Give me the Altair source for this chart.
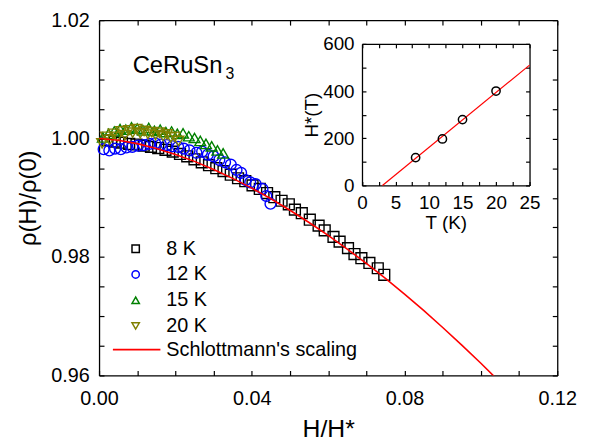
import altair as alt
import pandas as pd

FONT = "Liberation Sans"

# ---------------- main panel data ----------------
series_names = ["8 K", "12 K", "15 K", "20 K"]
series_colors = ["#000000", "#0000ff", "#008000", "#808000"]
series_shapes = ["square", "circle", "triangle-up", "triangle-down"]

h_8K = [0.0022, 0.0041, 0.0060, 0.0079, 0.0098, 0.0117, 0.0136, 0.0155, 0.0174, 0.0193,
        0.0212, 0.0231, 0.0250, 0.0269, 0.0288, 0.0307, 0.0326, 0.0345, 0.0364, 0.0383,
        0.0402, 0.0421, 0.0440, 0.0459, 0.0478, 0.0497, 0.0513, 0.0531, 0.0552, 0.0575,
        0.0591, 0.0614, 0.0630, 0.0652, 0.0669, 0.0687, 0.0708, 0.0730, 0.0747]
r_8K = [0.9997, 0.9995, 0.9993, 0.9991, 0.9990, 0.9988, 0.9986, 0.9984, 0.9981, 0.9978,
        0.9974, 0.9970, 0.9965, 0.9960, 0.9955, 0.9950, 0.9945, 0.9939, 0.9933, 0.9928,
        0.9921, 0.9915, 0.9908, 0.9901, 0.9895, 0.9889, 0.9880, 0.9874, 0.9863, 0.9853,
        0.9845, 0.9834, 0.9826, 0.9815, 0.9805, 0.9798, 0.9790, 0.9781, 0.9770]

h_12K = [0.0012, 0.0027, 0.0042, 0.0057, 0.0072, 0.0087, 0.0102, 0.0117, 0.0132, 0.0147,
         0.0162, 0.0177, 0.0192, 0.0207, 0.0222, 0.0237, 0.0255, 0.0270, 0.0285, 0.0300,
         0.0315, 0.0330, 0.0345, 0.0360, 0.0372, 0.0384, 0.0396, 0.0410, 0.0428, 0.0438,
         0.0449]
r_12K = [0.9982, 0.9980, 0.9983, 0.9982, 0.9985, 0.9986, 0.9988, 0.9989, 0.9991, 0.9992,
         0.9990, 0.9989, 0.9987, 0.9986, 0.9983, 0.9980, 0.9976, 0.9978, 0.9973, 0.9970,
         0.9964, 0.9960, 0.9956, 0.9947, 0.9942, 0.9930, 0.9926, 0.9923, 0.9915, 0.9903,
         0.9890]

h_15K = [0.0010, 0.0025, 0.0040, 0.0055, 0.0070, 0.0085, 0.0100, 0.0115, 0.0130, 0.0145,
         0.0160, 0.0175, 0.0190, 0.0205, 0.0220, 0.0235, 0.0250, 0.0265, 0.0280, 0.0295,
         0.0310, 0.0325]
r_15K = [1.0002, 1.0008, 1.0012, 1.0016, 1.0015, 1.0019, 1.0017, 1.0014, 1.0018, 1.0013,
         1.0015, 1.0011, 1.0012, 1.0008, 1.0009, 1.0004, 1.0001, 0.9996, 0.9991, 0.9987,
         0.9980, 0.9975]

h_20K = [0.0008, 0.0018, 0.0028, 0.0038, 0.0048, 0.0058, 0.0068, 0.0078, 0.0088, 0.0098,
         0.0108, 0.0118, 0.0128, 0.0138, 0.0148, 0.0158, 0.0168, 0.0178, 0.0188, 0.0198,
         0.0208]
r_20K = [0.9992, 1.0003, 0.9998, 1.0008, 1.0003, 1.0012, 1.0006, 1.0014, 1.0010, 1.0016,
         1.0009, 1.0013, 1.0008, 1.0011, 1.0006, 1.0010, 1.0004, 1.0007, 1.0002, 1.0003,
         0.9996]

curve_label = "Schlottmann's scaling"
curve_h = [0.0, 0.005, 0.01, 0.015, 0.02, 0.025, 0.03, 0.035, 0.04, 0.045, 0.05,
           0.055, 0.06, 0.065, 0.07, 0.075, 0.08, 0.085, 0.09, 0.095, 0.10, 0.105]
curve_r = [1.0000, 0.99973, 0.99915, 0.99834, 0.99733, 0.99615, 0.99479, 0.99328,
           0.99163, 0.98984, 0.98790, 0.98583, 0.98366, 0.98134, 0.97892, 0.97638,
           0.97373, 0.97097, 0.96810, 0.96511, 0.96206, 0.95886]

x_ticks = [0.0, 0.01, 0.02, 0.03, 0.04, 0.05, 0.06, 0.07, 0.08, 0.09, 0.10, 0.11, 0.12]
y_ticks = [0.96, 0.965, 0.97, 0.975, 0.98, 0.985, 0.99, 0.995, 1.0, 1.005, 1.01, 1.015, 1.02]

compound = "CeRuSn"
compound_sub = "3"

# ---------------- inset data ----------------
inset_T = [8, 12, 15, 20]
inset_H = [118, 197, 279, 400]
fit_T = [3.05, 25.0]
fit_H = [0.0, 510.0]
inset_x_ticks = [0, 2.5, 5, 7.5, 10, 12.5, 15, 17.5, 20, 22.5, 25]
inset_y_ticks = [0, 100, 200, 300, 400, 500, 600]

# ---------------- tables ----------------
rows = []
idx = 0
for name, hs, rs in zip(series_names, [h_8K, h_12K, h_15K, h_20K], [r_8K, r_12K, r_15K, r_20K]):
    for h, r in zip(hs, rs):
        rows.append({"h": h, "r": r, "series": name, "idx": idx})
        idx += 1
df_pts = pd.DataFrame(rows)
df_curve = pd.DataFrame({"h": curve_h, "r": curve_r, "label": [curve_label] * len(curve_h)})
df_txt = pd.DataFrame({"h": [0.0088], "r": [1.0123], "t": [compound]})
df_sub = pd.DataFrame({"h": [0.0331], "r": [1.0109], "t": [compound_sub]})
df_in = pd.DataFrame({"T": inset_T, "H": inset_H})
df_fit = pd.DataFrame({"T": fit_T, "H": fit_H})

W, H = 463, 359
IN_X = [265.7, 435.0]
IN_Y = [167.0, 24.0]


def neg(n):
    return alt.ExprRef(expr=str(-n))


xs = alt.Scale(domain=[0, 0.12], nice=False, zero=False)
ys = alt.Scale(domain=[0.96, 1.02], nice=False, zero=False)
xlab = "abs(datum.value*25 - round(datum.value*25)) < 0.001 ? format(datum.value, '.2f') : ''"
ylab = "abs(datum.value*50 - round(datum.value*50)) < 0.001 ? format(datum.value, '.2f') : ''"

leg_pts = alt.Legend(title=None, orient="none", legendX=27, legendY=221, symbolSize=55,
                     symbolStrokeWidth=1.5, labelFontSize=20, labelFont=FONT, labelColor="black",
                     labelOffset=21, rowPadding=6, padding=0, labelLimit=300)
leg_line = alt.Legend(title=None, orient="none", legendX=13, legendY=308, symbolType="stroke",
                      symbolSize=2304, symbolStrokeWidth=1.8, labelFontSize=20, labelFont=FONT,
                      labelColor="black", labelOffset=5, padding=0, labelLimit=300)

points = alt.Chart(df_pts).mark_point(filled=False, size=120, strokeWidth=1.4, opacity=1).encode(
    x=alt.X("h:Q", scale=xs, axis=alt.Axis(orient="bottom", values=x_ticks, labelExpr=xlab,
                                           tickSize=neg(5), labelPadding=18, labelFontSize=20,
                                           title="H/H*", titleFontSize=25, titlePadding=9)),
    y=alt.Y("r:Q", scale=ys, axis=alt.Axis(orient="left", values=y_ticks, labelExpr=ylab,
                                           tickSize=neg(5), labelPadding=15, labelFontSize=20,
                                           title="ρ(H)/ρ(0)", titleFontSize=24, titlePadding=10)),
    color=alt.Color("series:N", scale=alt.Scale(domain=series_names, range=series_colors), legend=leg_pts),
    shape=alt.Shape("series:N", scale=alt.Scale(domain=series_names, range=series_shapes), legend=leg_pts),
    order=alt.Order("idx:Q"),
)

curve = alt.Chart(df_curve).mark_line(strokeWidth=1.6, clip=True).encode(
    x=alt.X("h:Q", scale=xs, axis=alt.Axis(orient="top", values=x_ticks, labels=False,
                                           tickSize=neg(5), title=None)),
    y=alt.Y("r:Q", scale=ys, axis=alt.Axis(orient="right", values=y_ticks, labels=False,
                                           tickSize=neg(5), title=None)),
    color=alt.Color("label:N", scale=alt.Scale(domain=[curve_label], range=["#ff0000"]), legend=leg_line),
)

txt = alt.Chart(df_txt).mark_text(align="left", baseline="middle", fontSize=24, font=FONT, color="black").encode(
    x=alt.X("h:Q", scale=xs, axis=None), y=alt.Y("r:Q", scale=ys, axis=None), text="t:N")
sub = alt.Chart(df_sub).mark_text(align="left", baseline="middle", fontSize=16, font=FONT, color="black").encode(
    x=alt.X("h:Q", scale=xs, axis=None), y=alt.Y("r:Q", scale=ys, axis=None), text="t:N")

main = alt.layer(points, curve, txt, sub).resolve_scale(
    color="independent", shape="independent").resolve_axis(x="independent", y="independent")

xsi = alt.Scale(domain=[0, 25], range=IN_X, nice=False, zero=False)
ysi = alt.Scale(domain=[0, 600], range=IN_Y, nice=False, zero=False)
ixlab = "datum.value % 5 == 0 ? format(datum.value, 'd') : ''"
iylab = "datum.value % 200 == 0 ? format(datum.value, 'd') : ''"

inset_line = alt.Chart(df_fit).mark_line(color="#ff0000", strokeWidth=1.2).encode(
    x=alt.X("T:Q", scale=xsi, axis=alt.Axis(orient="top", offset=-IN_Y[1], values=inset_x_ticks,
                                            labels=False, tickSize=neg(4), title=None)),
    y=alt.Y("H:Q", scale=ysi, axis=alt.Axis(orient="right", offset=-(W - IN_X[1]), values=inset_y_ticks,
                                            labels=False, tickSize=neg(4), title=None)),
)
inset_pts = alt.Chart(df_in).mark_point(shape="circle", filled=False, color="black", size=70,
                                        strokeWidth=1.5, opacity=1).encode(
    x=alt.X("T:Q", scale=xsi, axis=alt.Axis(orient="bottom", offset=-(H - IN_Y[0]), values=inset_x_ticks,
                                            labelExpr=ixlab, tickSize=neg(4), labelPadding=12,
                                            labelFontSize=19, title="T (K)", titleFontSize=19,
                                            titlePadding=2)),
    y=alt.Y("H:Q", scale=ysi, axis=alt.Axis(orient="left", offset=-IN_X[0], values=inset_y_ticks,
                                            labelExpr=iylab, tickSize=neg(4), labelPadding=12,
                                            labelFontSize=19, title="H*(T)", titleFontSize=19,
                                            titlePadding=1)),
)
inset = alt.layer(inset_line, inset_pts).resolve_axis(x="independent", y="independent")

chart = alt.layer(main, inset).resolve_scale(x="independent", y="independent").properties(
    width=W, height=H,
    padding={"left": 92, "top": 10, "right": 24, "bottom": 66},
    autosize=alt.AutoSizeParams(type="none"),
).configure_view(stroke=None).configure_axis(
    grid=False, domainColor="black", domainWidth=1.3, tickColor="black", tickWidth=1.2,
    labelFont=FONT, titleFont=FONT, labelColor="black", titleColor="black",
    titleFontWeight="normal", labelOverlap=False, labelFlush=False, labelBound=False,
)

chart.save("out.html", embed_options={"renderer": "svg", "actions": False})
